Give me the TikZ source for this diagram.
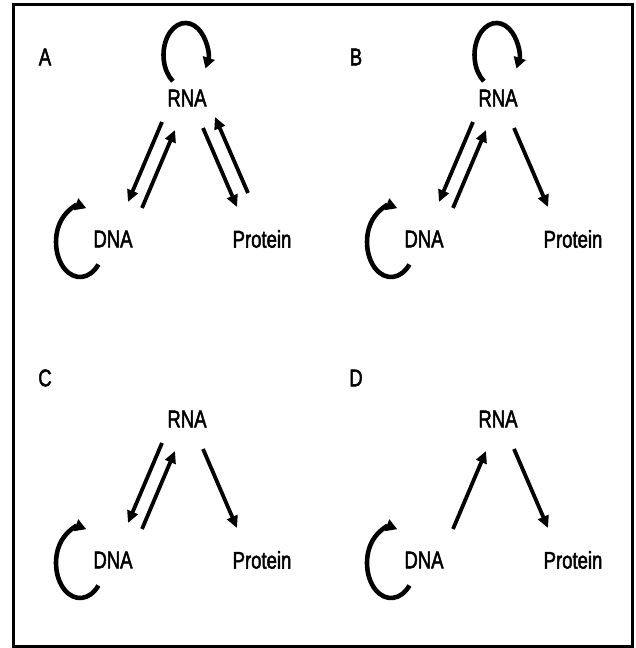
\documentclass[tikz,border=0pt]{standalone}
\usepackage{graphicx}
\usepackage{fontspec}
\setmainfont{Liberation Sans}
\newfontfamily\labfont{Liberation Sans}[FakeBold=2.5]
\usetikzlibrary{arrows.meta}
\newcommand\stretchtxt[1]{\scalebox{1}[1.3]{#1}}
\newcommand\panelbase[2]{%
  \node[lbl] (#1L) at (45,57) {\stretchtxt{#2}};
  \node[lbl] (#1R) at (187,98) {\stretchtxt{RNA}};
  \node[lbl] (#1D) at (113,239) {\stretchtxt{DNA}};
  \node[lbl] (#1P) at (262,239) {\stretchtxt{Protein}};
  \coordinate (#1rd1) at (162,122); \coordinate (#1rd2) at (128,202);
  \coordinate (#1dr1) at (142,208); \coordinate (#1dr2) at (175,130);
  \coordinate (#1rp1) at (203,128); \coordinate (#1rp2) at (237,207);
  \coordinate (#1pr1) at (248,193); \coordinate (#1pr2) at (215,117);
  \coordinate (#1dl) at (98.4,264.5);
  \coordinate (#1rl) at (172.9,81.2);
}
\newcommand\dnaloop[1]{\draw[loopline] (#1dl) arc[start angle=40, end angle=285, x radius=24, y radius=35];}
\newcommand\rnaloop[1]{\draw[loopline] (#1rl) arc[start angle=125, end angle=385, x radius=22, y radius=32];}
\begin{document}
\begin{tikzpicture}[x=1pt,y=-1pt,
  lbl/.style={inner sep=0pt, font=\fontsize{18.5}{18.5}\labfont},
  conn/.style={line width=3.8pt, -{Triangle[length=12pt,width=11pt]}},
  loopline/.style={line width=4.6pt, -{Triangle[length=11pt,width=12pt]}}]
\useasboundingbox (0,0) rectangle (636,648);
\fill[white] (0,0) rectangle (636,648);
\draw[line width=3pt] (13.5,4.5) rectangle (632,646);
% Panel A
\begin{scope}
  \panelbase{a}{A}
  \rnaloop{a}
  \dnaloop{a}
  \draw[conn] (ard1) -- (ard2);
  \draw[conn] (adr1) -- (adr2);
  \draw[conn] (arp1) -- (arp2);
  \draw[conn] (apr1) -- (apr2);
\end{scope}
% Panel B
\begin{scope}[shift={(311,0)}]
  \panelbase{b}{B}
  \rnaloop{b}
  \dnaloop{b}
  \draw[conn] (brd1) -- (brd2);
  \draw[conn] (bdr1) -- (bdr2);
  \draw[conn] (brp1) -- (brp2);
\end{scope}
% Panel C
\begin{scope}[shift={(0,321)}]
  \panelbase{c}{C}
  \dnaloop{c}
  \draw[conn] (crd1) -- (crd2);
  \draw[conn] (cdr1) -- (cdr2);
  \draw[conn] (crp1) -- (crp2);
\end{scope}
% Panel D
\begin{scope}[shift={(311,321)}]
  \panelbase{d}{D}
  \dnaloop{d}
  \draw[conn] (ddr1) -- (ddr2);
  \draw[conn] (drp1) -- (drp2);
\end{scope}
\end{tikzpicture}
\end{document}
